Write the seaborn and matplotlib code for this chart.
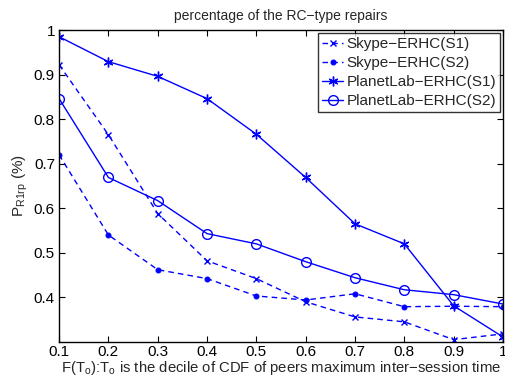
import matplotlib
matplotlib.use("Agg")
import matplotlib.pyplot as plt
import seaborn as sns
import pandas as pd

# Deciles of the CDF of peers' maximum inter-session time
deciles = [0.1, 0.2, 0.3, 0.4, 0.5, 0.6, 0.7, 0.8, 0.9, 1.0]

skype_s1 = [0.922, 0.765, 0.588, 0.482, 0.442, 0.390, 0.356, 0.345, 0.305, 0.318]
skype_s2 = [0.720, 0.540, 0.462, 0.442, 0.403, 0.394, 0.408, 0.379, 0.380, 0.379]
planetlab_s1 = [0.985, 0.929, 0.896, 0.846, 0.766, 0.669, 0.565, 0.520, 0.381, 0.311]
planetlab_s2 = [0.846, 0.669, 0.617, 0.543, 0.520, 0.480, 0.444, 0.417, 0.406, 0.385]

series_names = ["Skype\u2212ERHC(S1)", "Skype\u2212ERHC(S2)",
                "PlanetLab\u2212ERHC(S1)", "PlanetLab\u2212ERHC(S2)"]
series_values = [skype_s1, skype_s2, planetlab_s1, planetlab_s2]

x_ticks = [0.1, 0.2, 0.3, 0.4, 0.5, 0.6, 0.7, 0.8, 0.9, 1.0]
x_tick_labels = ["0.1", "0.2", "0.3", "0.4", "0.5", "0.6", "0.7", "0.8", "0.9", "1"]
y_ticks = [0.4, 0.5, 0.6, 0.7, 0.8, 0.9, 1.0]
y_tick_labels = ["0.4", "0.5", "0.6", "0.7", "0.8", "0.9", "1"]

sns.set_theme(style="white")
plt.rcParams["font.family"] = ["Liberation Sans", "DejaVu Sans"]
plt.rcParams["mathtext.fontset"] = "custom"
plt.rcParams["mathtext.rm"] = "Liberation Sans"
plt.rcParams["mathtext.it"] = "Liberation Sans:italic"

fig = plt.figure(figsize=(5.05, 3.85), dpi=100)
ax = fig.add_axes([0.117, 0.112, 0.879, 0.81])

blue = (0, 0, 1)
styles = [
    dict(marker="x", ls=(0, (4, 3)), ms=5, mfc=blue, mew=1.0),
    dict(marker="o", ls=(0, (4, 3)), ms=3.5, mfc=blue, mew=0.8),
    dict(marker=(6, 2, 0), ls="-", ms=7, mfc=blue, mew=1.0),
    dict(marker="o", ls="-", ms=7, mfc="none", mew=1.0),
]

for name, vals, st in zip(series_names, series_values, styles):
    df = pd.DataFrame({"x": deciles, "y": vals})
    sns.lineplot(data=df, x="x", y="y", ax=ax, color=blue, lw=1.0,
                 linestyle=st["ls"], marker=st["marker"], markersize=st["ms"],
                 markerfacecolor=st["mfc"], markeredgecolor=blue,
                 markeredgewidth=st["mew"], label=name)

ax.set_xlim(0.1, 1.0)
ax.set_ylim(0.3, 1.0)
ax.set_xticks(x_ticks)
ax.set_xticklabels(x_tick_labels)
ax.set_yticks(y_ticks)
ax.set_yticklabels(y_tick_labels)
ax.tick_params(direction="in", length=4, width=0.8, labelsize=11,
               top=True, right=True, bottom=True, left=True, pad=3, colors="black")
ax.tick_params(axis="x", pad=2)
for sp in ax.spines.values():
    sp.set_color("black")
    sp.set_linewidth(1.0)

ax.set_title("percentage of the RC\u2212type repairs", fontsize=10, pad=7)
ax.set_xlabel("F(T$_{\\rm o}$):T$_{\\rm o}$ is the decile of CDF of peers maximum inter\u2212session time",
              fontsize=10.7, labelpad=0)
ax.set_ylabel(r"P$_{\rm R1rp}$ (%)", fontsize=11, labelpad=3)

leg = ax.legend(loc="upper right", fontsize=11, frameon=True, fancybox=False,
                handlelength=1.4, handletextpad=0.2, borderpad=0.25,
                labelspacing=0.33, borderaxespad=0.2)
leg.get_frame().set_edgecolor("black")
leg.get_frame().set_linewidth(1.0)

fig.savefig("out.png", dpi=100, facecolor="white")
